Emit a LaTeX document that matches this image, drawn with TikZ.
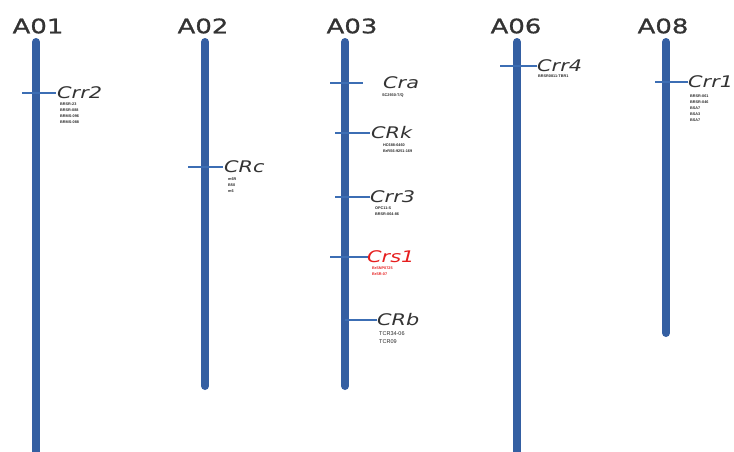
\documentclass[tikz,border=0pt]{standalone}
\usepackage{fontspec}
\setmainfont{Liberation Sans}
\newfontfamily\wide{DejaVu Sans}
\newfontfamily\widebf[FakeBold=0.8]{DejaVu Sans}
\definecolor{chromblue}{RGB}{52,95,162}
\definecolor{tickblue}{RGB}{60,110,180}
\definecolor{genered}{RGB}{230,30,30}
\newcommand{\wtitle}[1]{\scalebox{1.3}[1]{#1}}
\newcommand{\wgene}[1]{\scalebox{1.3}[1]{#1}}
\begin{document}
\begin{tikzpicture}[x=1pt,y=-1pt,
 chrom/.style={line width=8pt, draw=chromblue, line cap=round},
 tickln/.style={line width=1.6pt, draw=tickblue},
 title/.style={font=\widebf\fontsize{20}{20}\selectfont, text=black!80, inner sep=0},
 gene/.style={font=\wide\fontsize{16}{16}\selectfont\itshape, anchor=west, inner sep=0, text=black!80},
 mk/.style={font=\bfseries\fontsize{3.8}{5.8}\selectfont, anchor=north west, inner sep=0, align=left, text=black!85}]
\useasboundingbox (0,0) rectangle (734,451);
% titles
\node[title] (tA01) at (38,26) {\wtitle{A01}};
\node[title] (tA02) at (203,26) {\wtitle{A02}};
\node[title] (tA03) at (352,26) {\wtitle{A03}};
\node[title] (tA06) at (516,26) {\wtitle{A06}};
\node[title] (tA08) at (663,26) {\wtitle{A08}};
% chromosomes
\coordinate (c1t) at (36,42);  \coordinate (c1b) at (36,470);
\coordinate (c2t) at (205,42); \coordinate (c2b) at (205,386);
\coordinate (c3t) at (345,42); \coordinate (c3b) at (345,386);
\coordinate (c6t) at (517,42); \coordinate (c6b) at (517,470);
\coordinate (c8t) at (666,42); \coordinate (c8b) at (666,333);
\draw[chrom] (c1t) -- (c1b);
\draw[chrom] (c2t) -- (c2b);
\draw[chrom] (c3t) -- (c3b);
\draw[chrom] (c6t) -- (c6b);
\draw[chrom] (c8t) -- (c8b);
% A01 Crr2
\coordinate (k1a) at (22,93); \coordinate (k1b) at (56,93);
\draw[tickln] (k1a) -- (k1b);
\node[gene] (crr2) at (57,93) {\wgene{Crr2}};
\node[mk] (m1) at (60,103) {BRSR-23\\BRSR-088\\BRMS-096\\BRMS-088};
% A02 CRc
\coordinate (k2a) at (188,167); \coordinate (k2b) at (223,167);
\draw[tickln] (k2a) -- (k2b);
\node[gene] (crc) at (224,167) {\wgene{CRc}};
\node[mk] (m2) at (228,178) {m6R\\B50\\m6};
% A03 Cra
\coordinate (k3a) at (330,83); \coordinate (k3b) at (363,83);
\draw[tickln] (k3a) -- (k3b);
\node[gene] (cra) at (383,83) {\wgene{Cra}};
\node[mk] (m3) at (382,94) {SC2930-T/Q};
% A03 CRk
\coordinate (k4a) at (335,133); \coordinate (k4b) at (370,133);
\draw[tickln] (k4a) -- (k4b);
\node[gene] (crk) at (371,133) {\wgene{CRk}};
\node[mk] (m4) at (383,144) {HC688-6460\\BrRS6-9251-169};
% A03 Crr3
\coordinate (k5a) at (335,197); \coordinate (k5b) at (370,197);
\draw[tickln] (k5a) -- (k5b);
\node[gene] (crr3) at (370,197) {\wgene{Crr3}};
\node[mk] (m5) at (375,207) {OPC11-S\\BRSR-064-86};
% A03 Crs1
\coordinate (k6a) at (330,257); \coordinate (k6b) at (368,257);
\draw[tickln] (k6a) -- (k6b);
\node[gene, text=genered] (crs1) at (367,257) {\wgene{Crs1}};
\node[mk, text=genered] (m6) at (372,267) {BrSNP0725\\BrSR-07};
% A03 CRb
\coordinate (k7a) at (345,320); \coordinate (k7b) at (377,320);
\draw[tickln] (k7a) -- (k7b);
\node[gene] (crb) at (377,320) {\wgene{CRb}};
\node[mk, font=\fontsize{5.5}{8}\selectfont] (m7) at (379,331) {TCR34-06\\TCR09};
% A06 Crr4
\coordinate (k8a) at (500,66); \coordinate (k8b) at (537,66);
\draw[tickln] (k8a) -- (k8b);
\node[gene] (crr4) at (537,66) {\wgene{Crr4}};
\node[mk] (m8) at (538,75) {BRSR0811-TBR1};
% A08 Crr1
\coordinate (k9a) at (655,82); \coordinate (k9b) at (688,82);
\draw[tickln] (k9a) -- (k9b);
\node[gene] (crr1) at (688,82) {\wgene{Crr1}};
\node[mk] (m9) at (690,95) {BRSR-061\\BRSR-046\\BSA7\\BSA3\\BSA7};
\end{tikzpicture}
\end{document}
